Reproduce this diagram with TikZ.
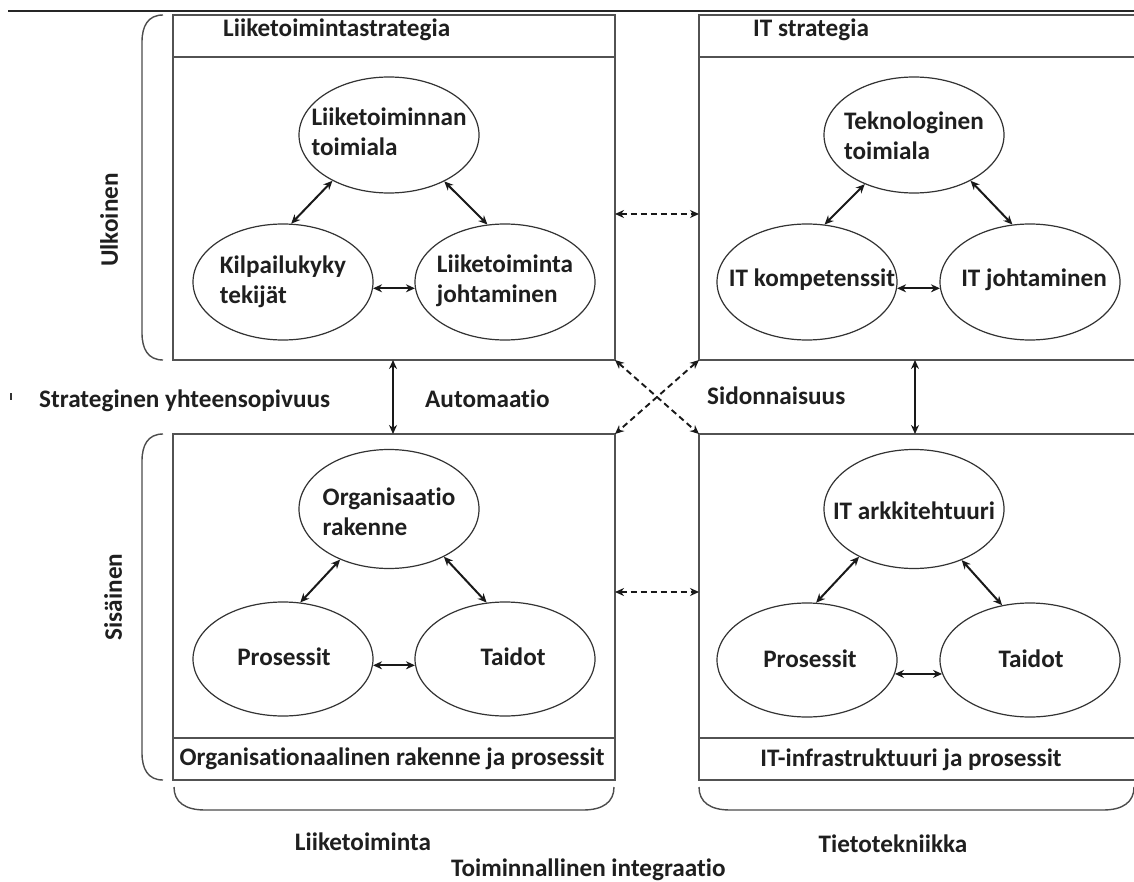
\documentclass[tikz,border=0pt]{standalone}
\usepackage{fontspec}
\setmainfont{Carlito}[Ligatures={NoCommon}]
\usetikzlibrary{shapes.geometric,arrows.meta}
\newcommand\labfont{\fontsize{25.2}{30}\selectfont\bfseries}

\begin{document}
\begin{tikzpicture}[x=1pt,y=-1pt,
  frame/.style={draw=black!68, line width=1.4pt, inner sep=0pt, outer sep=0pt},
  rule/.style={draw=black!68, line width=1.4pt},
  oval/.style={ellipse, draw=black!80, line width=1.2pt, minimum width=180pt, minimum height=116pt, inner sep=0pt},
  lbl/.style={font=\labfont, text=black!88, inner sep=0pt, align=left},
  link/.style={<->, >={Stealth[length=9pt,width=8pt]}, line width=2pt, draw=black!90},
  dlink/.style={link, line width=1.9pt, dash pattern=on 6pt off 4pt},
  brace/.style={draw=black!70, line width=1.4pt}]
\useasboundingbox (0,0) rectangle (1134,882);
\fill[white] (0,0) rectangle (1134,882);

% page rule
\draw[line width=1.8pt, black!85] (8,11) -- (1134,11);

% the four quadrant frames
\node[frame, minimum width=442pt, minimum height=345pt] (TL) at (394,187.5) {};
\node[frame, minimum width=450pt, minimum height=345pt] (TR) at (924,187.5) {};
\node[frame, minimum width=442pt, minimum height=346pt] (BL) at (394,607) {};
\node[frame, minimum width=450pt, minimum height=346pt] (BR) at (924,607) {};

% header and footer rows
\draw[rule] (173,57) -- (615,57);
\draw[rule] (699,57) -- (1149,57);
\draw[rule] (173,738) -- (615,738);
\draw[rule] (699,738) -- (1149,738);

\node[lbl, anchor=base west] (tlh) at (223,37) {Liiketoimintastrategia};
\node[lbl, anchor=base west] (trh) at (753,37) {IT strategia};
\node[lbl, anchor=base] (blf) at (392,765) {Organisationaalinen rakenne ja prosessit};
\node[lbl, anchor=base] (brf) at (911,766) {IT-infrastruktuuri ja prosessit};

% business strategy triangle
\node[oval] (a1) at (389,135) {};
\node[oval] (a2) at (283,282) {};
\node[oval] (a3) at (505,282) {};
\node[lbl] (a1t) at (389,132) {Liiketoiminnan\\toimiala};
\node[lbl] (a2t) at (283,282) {Kilpailukyky\\tekijät};
\node[lbl] (a3t) at (505,281) {Liiketoiminta\\johtaminen};
\draw[link] (a1.219) -- (a2.82);
\draw[link] (a1.320) -- (a3.107);
\draw[link] (a2.-4) -- (a3.184);

% IT strategy triangle
\node[oval] (b1) at (914,135) {};
\node[oval] (b2) at (807,282) {};
\node[oval] (b3) at (1030,282) {};
\node[lbl] (b1t) at (914,136) {Teknologinen\\toimiala};
\node[lbl] (b2t) at (812,280) {IT kompetenssit};
\node[lbl] (b3t) at (1034,280) {IT johtaminen};
\draw[link] (b1.225) -- (b2.73);
\draw[link] (b1.321) -- (b3.107);
\draw[link] (b2.-4) -- (b3.184);

% organisation triangle
\node[oval, minimum height=119pt] (c1) at (389,509) {};
\node[oval, minimum height=114pt] (c2) at (283,659) {};
\node[oval, minimum height=114pt] (c3) at (505,659) {};
\node[lbl] (c1t) at (389,512) {Organisaatio\\rakenne};
\node[lbl] (c2t) at (284,657) {Prosessit};
\node[lbl] (c3t) at (513,657) {Taidot};
\draw[link] (c1.226) -- (c2.73);
\draw[link] (c1.319) -- (c3.108);
\draw[link] (c2.-4) -- (c3.184);

% infrastructure triangle
\node[oval, minimum height=119pt] (d1) at (914,509) {};
\node[oval, minimum height=114pt] (d2) at (807,660) {};
\node[oval, minimum height=114pt] (d3) at (1030,660) {};
\node[lbl] (d1t) at (914,511) {IT arkkitehtuuri};
\node[lbl] (d2t) at (810,659) {Prosessit};
\node[lbl] (d3t) at (1031,659) {Taidot};
\draw[link] (d1.221) -- (d2.81);
\draw[link] (d1.313) -- (d3.117);
\draw[link] (d2.-9) -- (d3.189);

% links between the quadrants
\coordinate (h1) at (657,214);
\coordinate (h2) at (657,592);
\coordinate (v1) at (393,0);
\coordinate (v2) at (915,0);
\draw[dlink] (TL.east |- h1) -- (TR.west |- h1);
\draw[dlink] (BL.east |- h2) -- (BR.west |- h2);
\draw[dlink] (TL.south east) -- (BR.north west);
\draw[dlink] (TR.south west) -- (BL.north east);
\draw[link, line width=1.6pt] (TL.south -| v1) -- (BL.north -| v1);
\draw[link, line width=1.6pt] (TR.south -| v2) -- (BR.north -| v2);

\node[lbl, anchor=base west] (fit) at (39,407) {Strateginen yhteensopivuus};
\node[lbl, anchor=base west] (aut) at (425,407) {Automaatio};
\node[lbl, anchor=base west] (sid) at (707,404) {Sidonnaisuus};
\draw[line width=2pt, black!80] (11,393) -- (11,400);

% side brackets
\draw[brace] (163,15) .. controls (148,15) and (142,26) .. (142,42) -- (142,333)
  .. controls (142,349) and (148,360) .. (163,360);
\draw[brace] (163,434) .. controls (148,434) and (142,445) .. (142,461) -- (142,753)
  .. controls (142,769) and (148,780) .. (163,780);
\node[lbl, rotate=90] (ulk) at (109,220) {Ulkoinen};
\node[lbl, rotate=90] (sis) at (113,597) {Sisäinen};

% bottom brackets
\draw[brace] (174,787) .. controls (174,802) and (185,810) .. (205,810) -- (583,810)
  .. controls (603,810) and (614,802) .. (614,787);
\draw[brace] (699,787) .. controls (699,802) and (710,810) .. (730,810) -- (1103,810)
  .. controls (1123,810) and (1134,802) .. (1134,787);
\node[lbl, anchor=base] (lt) at (363,850) {Liiketoiminta};
\node[lbl, anchor=base] (tt) at (893,852) {Tietotekniikka};
\node[lbl, anchor=base west] (ti) at (451,876) {Toiminnallinen integraatio};
\end{tikzpicture}
\end{document}
